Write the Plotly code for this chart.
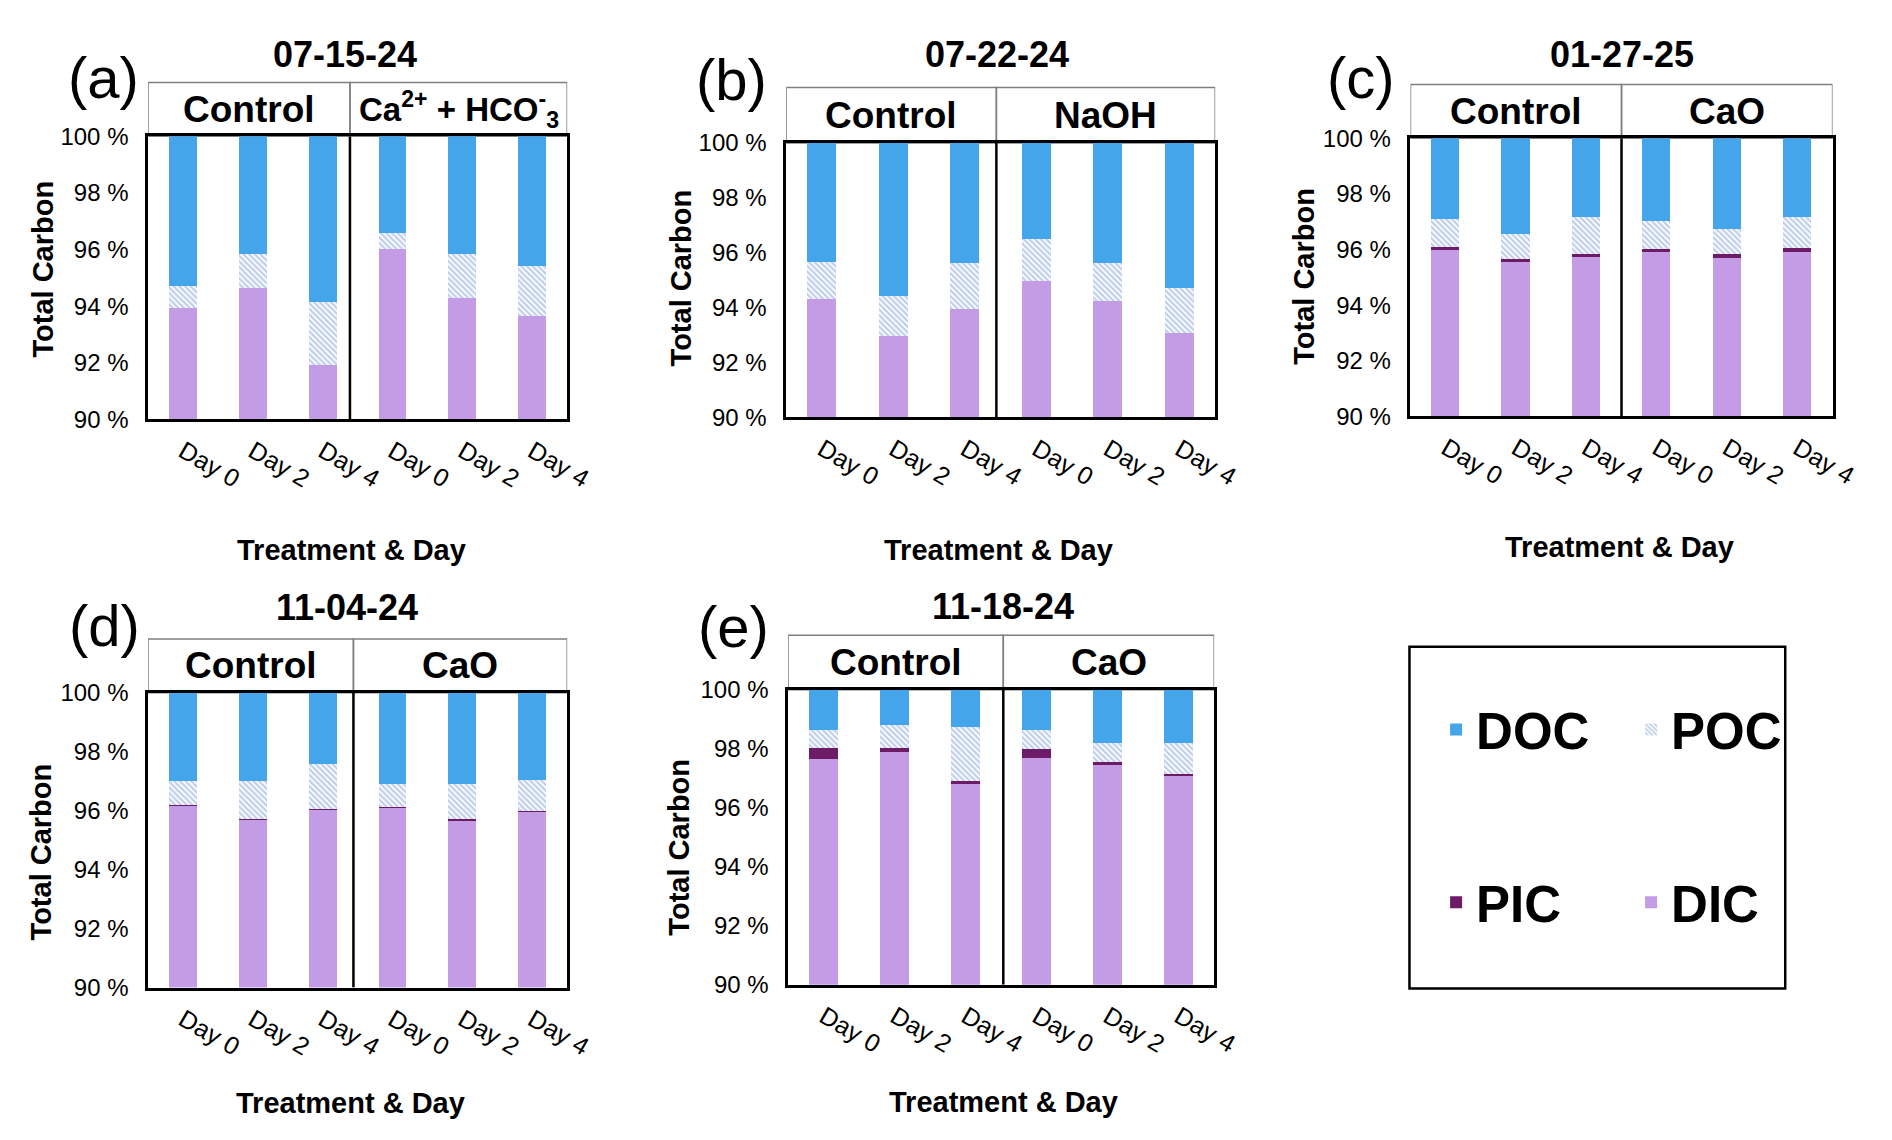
import plotly.graph_objects as go

W, H = 1892, 1140

# ---- data (percent of total carbon) ----
days = ["Day 0", "Day 2", "Day 4", "Day 0", "Day 2", "Day 4"]
dates = ["07-15-24", "07-22-24", "01-27-25", "11-04-24", "11-18-24"]
letters = ["(a)", "(b)", "(c)", "(d)", "(e)"]
treatments = ["Ca<sup>2+</sup> + HCO<sup>-</sup><sub>3</sub>", "NaOH", "CaO", "CaO", "CaO"]

dic = [
    [93.93, 94.64, 91.90, 96.02, 94.28, 93.63],
    [94.30, 92.97, 93.95, 94.96, 94.24, 93.06],
    [95.98, 95.54, 95.71, 95.90, 95.67, 95.90],
    [96.18, 95.72, 96.04, 96.12, 95.68, 95.97],
    [97.66, 97.89, 96.82, 97.71, 97.44, 97.11],
]
pic = [
    [0, 0, 0, 0, 0, 0],
    [0, 0, 0, 0, 0, 0],
    [0.12, 0.10, 0.13, 0.12, 0.17, 0.14],
    [0.01, 0.02, 0.01, 0.02, 0.03, 0.02],
    [0.36, 0.13, 0.09, 0.29, 0.13, 0.03],
]
poc = [
    [0.78, 1.20, 2.23, 0.54, 1.57, 1.79],
    [1.35, 1.44, 1.68, 1.55, 1.38, 1.67],
    [0.99, 0.90, 1.33, 0.98, 0.89, 1.12],
    [0.82, 1.29, 1.55, 0.77, 1.20, 1.05],
    [0.64, 0.79, 1.82, 0.65, 0.63, 1.06],
]
doc = [
    [5.29, 4.16, 5.87, 3.44, 4.15, 4.58],
    [4.35, 5.59, 4.37, 3.49, 4.38, 5.27],
    [2.91, 3.46, 2.83, 3.00, 3.27, 2.84],
    [2.99, 2.97, 2.40, 3.09, 3.09, 2.96],
    [1.34, 1.19, 1.27, 1.35, 1.80, 1.80],
]

# ---- panel geometry in pixels: plot box, header top, separator, title etc ----
boxes = [(142, 567, 117, 407), (789, 1224, 124, 405), (1422, 1850, 119, 404),
         (142, 567, 687, 989), (791, 1223, 684, 986)]
header_top = [62, 67, 64, 632, 628]
separators = [2.39, 2.44, 2.5, 2.44, 2.53]
title_pos = [(342, 33), (1003, 33), (1636, 33), (344, 600), (1009, 599)]
letter_pos = [(97, 57), (734, 59), (1372, 57), (98, 618), (736, 619)]
ytitle_pos = [(35, 253), (682, 262), (1314, 260), (33, 850), (680, 845)]
xtitle_pos = [(348, 541), (1004, 541), (1634, 538), (347, 1107), (1009, 1106)]

FONT = "Arial, 'Liberation Sans', sans-serif"
BLUE = "#45A5EB"
LAV = "#C49BE5"
PLUM = "#6D1A67"
HATCH = "#7F9DD6"


def px(x):
    return x / W


def py(y):
    return 1 - y / H


def label(text, x, y, size, bold=True, xref="paper", angle=0):
    return dict(text=text, xref=xref, yref="paper", x=x, y=y, showarrow=False,
                xanchor="center", yanchor="middle", textangle=angle,
                font=dict(family=FONT, size=size, color="black",
                          weight="bold" if bold else "normal"))


fig = go.Figure()
pos = list(range(len(days)))

series = [
    ("DIC", dic, dict(color=LAV), "legend2", 2),
    ("PIC", pic, dict(color=PLUM), "legend2", 1),
    ("POC", poc, dict(color="white", pattern=dict(shape="\\", fgcolor=HATCH, bgcolor="white",
                                                 size=4, solidity=0.55)), "legend", 2),
    ("DOC", doc, dict(color=BLUE), "legend", 1),
]

shapes = []
annotations = []

for i in range(5):
    k = i + 1
    xr = "x" if k == 1 else "x%d" % k
    yr = "y" if k == 1 else "y%d" % k
    l, r, t, b = boxes[i]

    for name, vals, marker, leg, rank in series:
        fig.add_trace(go.Bar(
            x=pos, y=vals[i], name=name, xaxis=xr, yaxis=yr,
            marker=dict(line=dict(width=0), **marker), width=0.4,
            showlegend=(i == 0), legend=leg, legendrank=rank,
        ))

    xa = dict(domain=[px(l), px(r)], anchor=yr, range=[-0.5, 5.5],
              tickvals=pos, ticktext=days, tickangle=30,
              tickfont=dict(family=FONT, size=25, color="black"),
              showline=True, mirror=True, linecolor="black", linewidth=2.5,
              showgrid=False, zeroline=False, ticks="", ticklabelstandoff=5)
    ya = dict(domain=[py(b), py(t)], anchor=xr, range=[90, 100], dtick=2, tick0=90,
              ticksuffix=" %", tickfont=dict(family=FONT, size=24, color="black"),
              showline=True, mirror=True, linecolor="black", linewidth=2.5,
              showgrid=False, zeroline=False, ticks="", ticklabelstandoff=12)
    fig.update_layout(**{("xaxis" if k == 1 else "xaxis%d" % k): xa,
                         ("yaxis" if k == 1 else "yaxis%d" % k): ya})

    sep = separators[i]
    # vertical divider between control and treatment
    shapes.append(dict(type="line", xref=xr, yref=yr, x0=sep, x1=sep, y0=90, y1=100,
                       line=dict(color="black", width=2.5)))
    # header boxes
    for x0, x1 in [(-0.5, sep), (sep, 5.5)]:
        shapes.append(dict(type="rect", xref=xr, yref="paper", x0=x0, x1=x1,
                           y0=py(t), y1=py(header_top[i]),
                           line=dict(color="#7F7F7F", width=1.5), layer="below"))
    hy = py((t + header_top[i]) / 2)
    annotations.append(label("Control", (-0.5 + sep) / 2, hy, 37, xref=xr))
    annotations.append(label(treatments[i], (sep + 5.5) / 2, hy, 33 if i == 0 else 37, xref=xr))

    tx, ty = title_pos[i]
    annotations.append(label(dates[i], px(tx), py(ty), 36))
    lx, ly = letter_pos[i]
    annotations.append(label(letters[i], px(lx), py(ly), 58, bold=False))
    yx, yy = ytitle_pos[i]
    annotations.append(label("Total Carbon", px(yx), py(yy), 29, angle=-90))
    xx, xy = xtitle_pos[i]
    annotations.append(label("Treatment & Day", px(xx), py(xy), 29))

# legend frame
shapes.append(dict(type="rect", xref="paper", yref="paper", x0=px(1421), x1=px(1802),
                   y0=py(990), y1=py(640), line=dict(color="black", width=2.5)))

leg_common = dict(orientation="h", xanchor="left", yanchor="middle",
                  entrywidth=150, entrywidthmode="pixels", bgcolor="rgba(0,0,0,0)",
                  font=dict(family=FONT, size=51, color="black", weight="bold"),
                  traceorder="normal", itemclick=False, itemdoubleclick=False)

fig.update_layout(
    width=W, height=H,
    margin=dict(l=0, r=0, t=0, b=0),
    paper_bgcolor="white", plot_bgcolor="white",
    barmode="stack", bargap=0,
    shapes=shapes, annotations=annotations,
    legend=dict(x=px(1448), y=py(725), **leg_common),
    legend2=dict(x=px(1448), y=py(902), **leg_common),
)

fig.write_html("out.html")
